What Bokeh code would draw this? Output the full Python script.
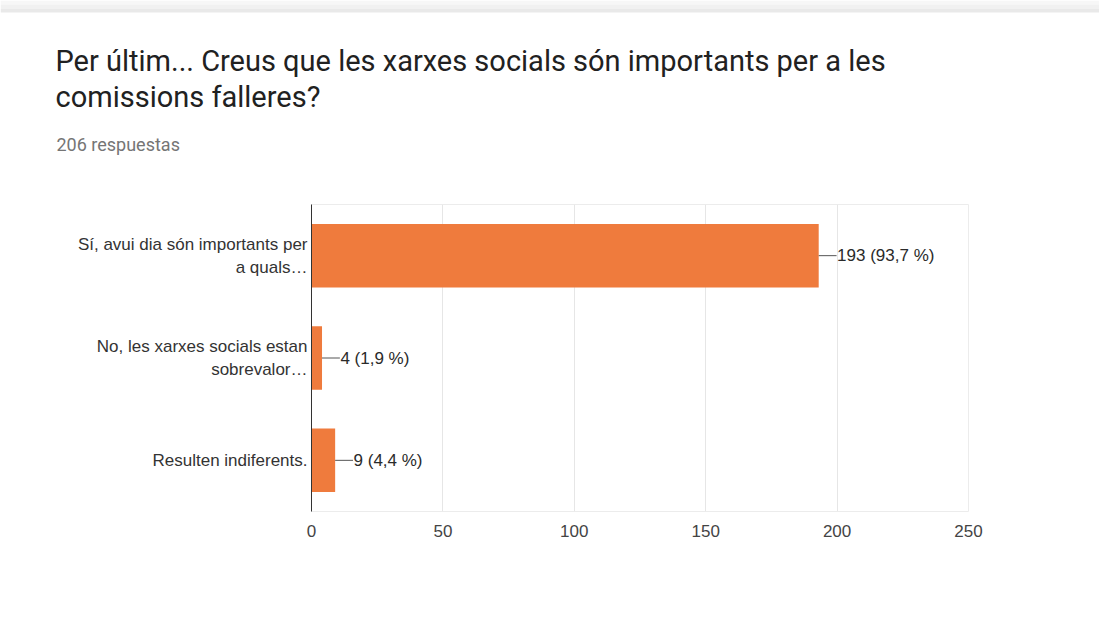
from bokeh.plotting import figure
from bokeh.layouts import column, row
from bokeh.models import FactorRange, Range1d, FixedTicker, BoxAnnotation
from bokeh.core.properties import value
from bokeh.embed import file_html
from bokeh.resources import INLINE

# ---- data ----
categories = ["Sí, avui dia són importants per\na quals…",
              "No, les xarxes socials estan\nsobrevalor…",
              "Resulten indiferents."]
counts = [193, 4, 9]
percents = ["93,7 %", "1,9 %", "4,4 %"]
x_ticks = [0, 50, 100, 150, 200, 250]
title_lines = ["Per últim... Creus que les xarxes socials són importants per a les",
               "comissions falleres?"]
subtitle = "206 respuestas"

W, H = 1099, 619
HEAD = 180                       # header figure height
FL, FR, FT, FB = 311, 968, 204, 511  # chart frame edges in page px

# ---- header (title + subtitle) ----
head = figure(width=W, height=HEAD, output_backend="svg", toolbar_location=None,
              x_range=Range1d(0, W), y_range=Range1d(HEAD, 0),
              x_axis_location=None, y_axis_location=None,
              min_border=0, min_border_left=0, min_border_right=0,
              min_border_top=0, min_border_bottom=0)
head.outline_line_color = None
head.grid.grid_line_color = None
head.background_fill_color = "white"
head.border_fill_color = "white"

for top, bot, col in [(0, 4, "#f7f7f7"), (4, 8, "#f1f1f1"), (8, 12, "#e9e9e9")]:
    head.add_layout(BoxAnnotation(left=0, right=W, top=top, bottom=bot,
                                  fill_color=col, fill_alpha=1, line_color=None))

head.text(x=[55, 55], y=[60, 96], text=title_lines,
          text_font=value("Roboto"), text_font_size="29px", text_color="#212121",
          text_baseline="alphabetic", text_align="left")
head.text(x=[56], y=[144], text=[subtitle],
          text_font=value("Roboto"), text_font_size="18px", text_color="#757575",
          text_baseline="alphabetic", text_align="left")

# ---- chart ----
CH = H - HEAD
p = figure(width=W, height=CH, output_backend="svg", toolbar_location=None,
           y_range=FactorRange(factors=list(reversed(categories)), range_padding=0),
           x_range=Range1d(0, 250),
           min_border_left=FL, min_border_right=W - FR,
           min_border_top=FT - HEAD, min_border_bottom=H - FB)
p.background_fill_color = "white"
p.border_fill_color = "white"
p.outline_line_color = "#ececec"

p.hbar(y=categories, right=counts, left=0, height=0.62, color="#EF7B3D", line_color=None)

p.segment(x0=counts, x1=[c + 6.8 for c in counts], y0=categories, y1=categories,
          line_color="#555555", line_width=1)
p.text(x=[c + 7.0 for c in counts], y=categories,
       text=[f"{c} ({pc})" for c, pc in zip(counts, percents)],
       text_font=value("Liberation Sans"), text_font_size="17px", text_color="#2a2a2a",
       text_baseline="middle", text_align="left")

p.xaxis.ticker = FixedTicker(ticks=x_ticks)
p.xaxis.axis_line_color = None
p.xaxis.major_tick_line_color = None
p.xaxis.minor_tick_line_color = None
p.xaxis.major_label_text_font = "Liberation Sans"
p.xaxis.major_label_text_font_size = "17px"
p.xaxis.major_label_text_color = "#444444"
p.xaxis.major_label_standoff = 7

p.yaxis.axis_line_color = "#333333"
p.yaxis.major_tick_line_color = None
p.yaxis.minor_tick_line_color = None
p.yaxis.major_label_text_font = "Liberation Sans"
p.yaxis.major_label_text_font_size = "17px"
p.yaxis.major_label_text_color = "#333333"
p.yaxis.major_label_standoff = -2

p.xgrid.grid_line_color = "#e6e6e6"
p.ygrid.grid_line_color = None

layout = column(row(head, spacing=0), row(p, spacing=0), spacing=0)
open("out.html", "w").write(file_html(layout, INLINE))
